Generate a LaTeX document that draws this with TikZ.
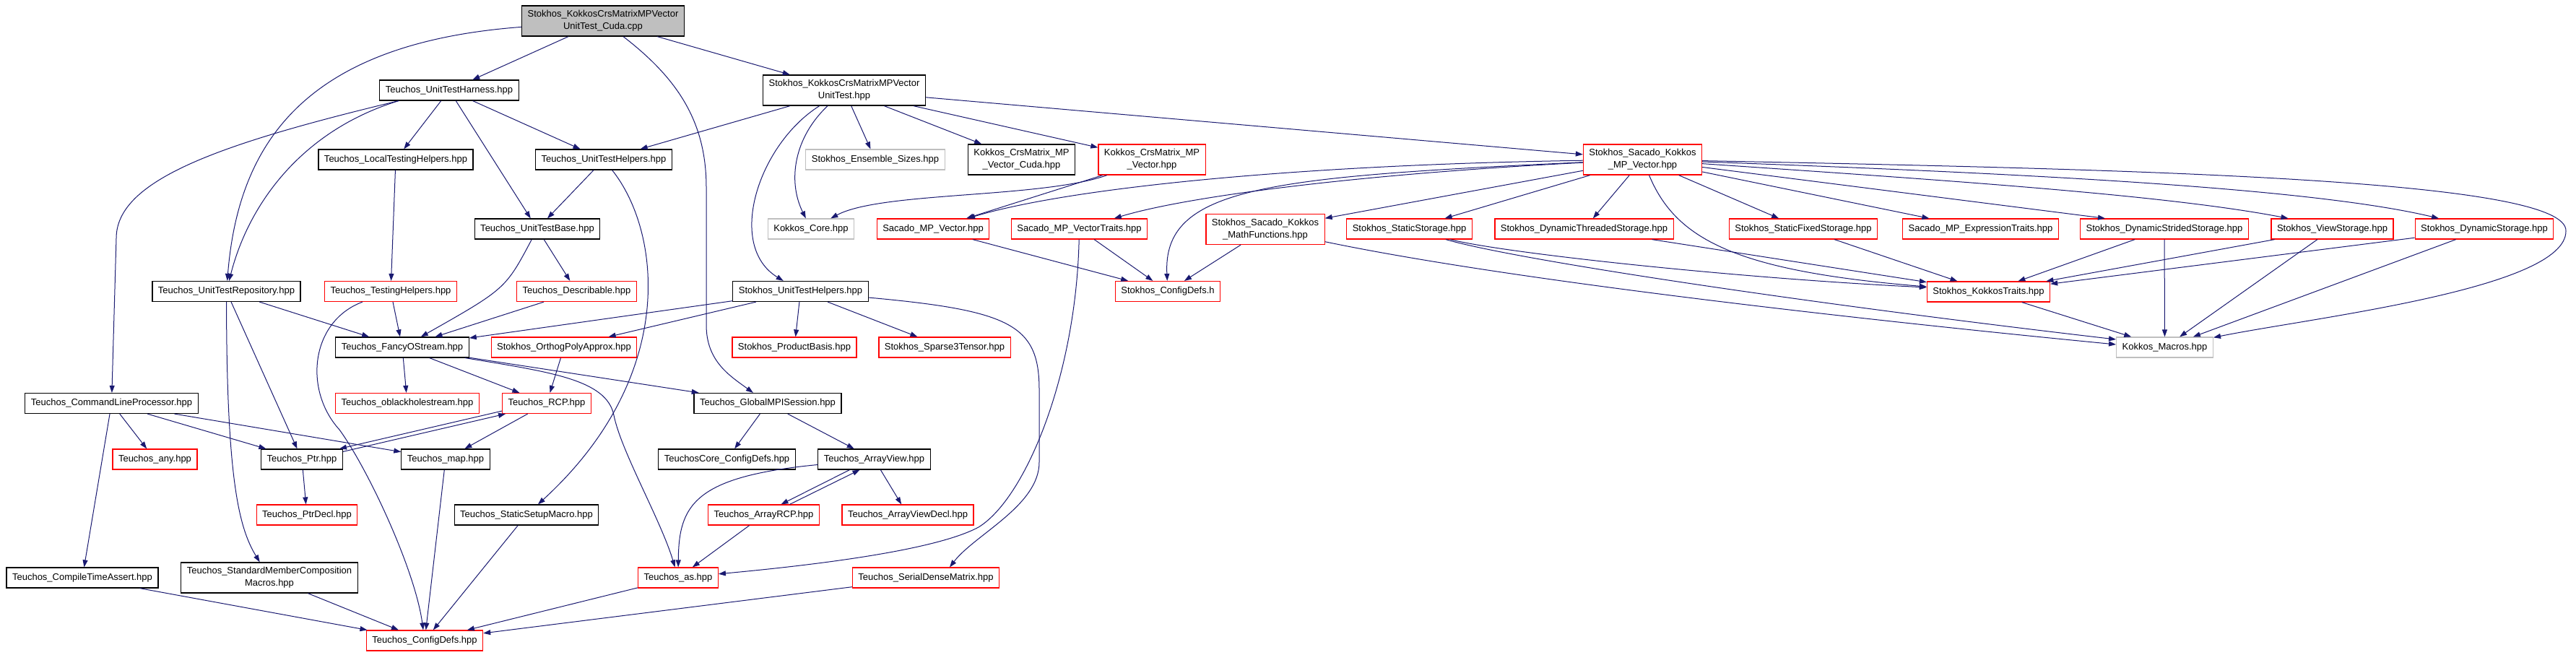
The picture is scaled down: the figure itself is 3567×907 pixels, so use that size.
\documentclass[tikz,border=0pt]{standalone}
\usepackage{fontspec}
\setmainfont{Liberation Sans}
\usetikzlibrary{arrows.meta}
\definecolor{midnight}{HTML}{191970}
\definecolor{lightgrey}{HTML}{BFBFBF}
\begin{document}
\begin{tikzpicture}[x=1pt,y=-1pt,
    filebox/.style={draw=black,line width=1.2pt,fill=white,align=center,
                    font=\fontsize{13}{17}\selectfont,
                    inner xsep=8pt,inner ysep=6.5pt,minimum height=28pt},
    redbox/.style={filebox,draw=red},
    greybox/.style={filebox,draw=lightgrey},
    dep/.style={draw=midnight,line width=1pt,-{Triangle[length=10pt,width=7pt]}}]
  \useasboundingbox (0,0) rectangle (3567,907);
  \node [filebox,fill=lightgrey] (root) at (835,29) {Stokhos\_KokkosCrsMatrixMPVector\\UnitTest\_Cuda.cpp};
  \node [filebox] (harness) at (622,125) {Teuchos\_UnitTestHarness.hpp};
  \node [filebox] (mpvut) at (1169,125) {Stokhos\_KokkosCrsMatrixMPVector\\UnitTest.hpp};
  \node [filebox] (localth) at (548,221) {Teuchos\_LocalTestingHelpers.hpp};
  \node [filebox] (tuth) at (836,221) {Teuchos\_UnitTestHelpers.hpp};
  \node [greybox] (ensemble) at (1212,221) {Stokhos\_Ensemble\_Sizes.hpp};
  \node [filebox] (crscuda) at (1414.5,221) {Kokkos\_CrsMatrix\_MP\\\_Vector\_Cuda.hpp};
  \node [redbox] (crsmpv) at (1595,221) {Kokkos\_CrsMatrix\_MP\\\_Vector.hpp};
  \node [redbox] (sskmpv) at (2274.5,221) {Stokhos\_Sacado\_Kokkos\\\_MP\_Vector.hpp};
  \node [filebox] (utbase) at (744,317) {Teuchos\_UnitTestBase.hpp};
  \node [greybox] (kcore) at (1123,317) {Kokkos\_Core.hpp};
  \node [redbox] (sacmpv) at (1292,317) {Sacado\_MP\_Vector.hpp};
  \node [redbox] (sacmpvtr) at (1494.5,317) {Sacado\_MP\_VectorTraits.hpp};
  \node [redbox] (mathfn) at (1752,317.5) {Stokhos\_Sacado\_Kokkos\\\_MathFunctions.hpp};
  \node [redbox] (staticst) at (1951.5,317) {Stokhos\_StaticStorage.hpp};
  \node [redbox] (dynthr) at (2193.5,317) {Stokhos\_DynamicThreadedStorage.hpp};
  \node [redbox] (staticfix) at (2497,317) {Stokhos\_StaticFixedStorage.hpp};
  \node [redbox] (exprtr) at (2742.5,317) {Sacado\_MP\_ExpressionTraits.hpp};
  \node [redbox] (dynstr) at (2997,317) {Stokhos\_DynamicStridedStorage.hpp};
  \node [redbox] (viewst) at (3229.5,317) {Stokhos\_ViewStorage.hpp};
  \node [redbox] (dynst) at (3440,317) {Stokhos\_DynamicStorage.hpp};
  \node [filebox] (utrep) at (313.5,403.5) {Teuchos\_UnitTestRepository.hpp};
  \node [redbox] (testh) at (541,403.5) {Teuchos\_TestingHelpers.hpp};
  \node [redbox] (descr) at (798.5,403.5) {Teuchos\_Describable.hpp};
  \node [filebox] (suth) at (1108.5,403.5) {Stokhos\_UnitTestHelpers.hpp};
  \node [redbox] (sconf) at (1617,403.5) {Stokhos\_ConfigDefs.h};
  \node [redbox] (ktraits) at (2753.5,404) {Stokhos\_KokkosTraits.hpp};
  \node [filebox] (fancy) at (557,481) {Teuchos\_FancyOStream.hpp};
  \node [redbox] (orthog) at (781,481) {Stokhos\_OrthogPolyApprox.hpp};
  \node [redbox] (prodb) at (1100,481) {Stokhos\_ProductBasis.hpp};
  \node [redbox] (sparse) at (1308,481) {Stokhos\_Sparse3Tensor.hpp};
  \node [greybox] (kmacros) at (2997.5,481) {Kokkos\_Macros.hpp};
  \node [filebox] (clp) at (154.5,558.5) {Teuchos\_CommandLineProcessor.hpp};
  \node [redbox] (oblack) at (564,558.5) {Teuchos\_oblackholestream.hpp};
  \node [redbox] (rcp) at (757,558.5) {Teuchos\_RCP.hpp};
  \node [filebox] (gmpi) at (1063,558.5) {Teuchos\_GlobalMPISession.hpp};
  \node [redbox] (any) at (214.5,636) {Teuchos\_any.hpp};
  \node [filebox] (ptr) at (418,636) {Teuchos\_Ptr.hpp};
  \node [filebox] (map) at (617,636) {Teuchos\_map.hpp};
  \node [filebox] (tcconf) at (1006.5,636) {TeuchosCore\_ConfigDefs.hpp};
  \node [filebox] (aview) at (1210.5,636) {Teuchos\_ArrayView.hpp};
  \node [redbox] (ptrdecl) at (425,713) {Teuchos\_PtrDecl.hpp};
  \node [filebox] (ssmacro) at (729,713) {Teuchos\_StaticSetupMacro.hpp};
  \node [redbox] (arcp) at (1057.5,713) {Teuchos\_ArrayRCP.hpp};
  \node [redbox] (avdecl) at (1257,713) {Teuchos\_ArrayViewDecl.hpp};
  \node [filebox] (cta) at (114,800) {Teuchos\_CompileTimeAssert.hpp};
  \node [filebox] (smcm) at (373,800) {Teuchos\_StandardMemberComposition\\Macros.hpp};
  \node [redbox] (tas) at (939,800) {Teuchos\_as.hpp};
  \node [redbox] (sdm) at (1282,800) {Teuchos\_SerialDenseMatrix.hpp};
  \node [redbox] (tconf) at (588,887) {Teuchos\_ConfigDefs.hpp};
  \draw [dep] (root) -- (harness);
  \draw [dep] (root) .. controls (420,60) and (330,200) .. (utrep);
  \draw [dep] (root) .. controls (940,110) and (978,170) .. (978,260) -- (978,450) .. controls (978,500) and (1010,520) .. (gmpi);
  \draw [dep] (root) -- (mpvut);
  \draw [dep] ([xshift=-70pt]harness.south) .. controls (420,180) and (345,280) .. (utrep);
  \draw [dep] ([xshift=-70pt]harness.south) .. controls (300,200) and (161,250) .. (161,330) -- (clp);
  \draw [dep] (harness) -- (localth);
  \draw [dep] (harness) -- (utbase);
  \draw [dep] (harness) -- (tuth);
  \draw [dep] (mpvut) -- (tuth);
  \draw [dep] (mpvut) .. controls (1100,190) and (1090,250) .. (kcore);
  \draw [dep] (mpvut) .. controls (1050,200) and (1005,340) .. (suth);
  \draw [dep] (mpvut) -- (ensemble);
  \draw [dep] (mpvut) -- (crscuda);
  \draw [dep] (mpvut) -- (crsmpv);
  \draw [dep] (mpvut) -- (sskmpv);
  \draw [dep] (crsmpv) .. controls (1440,275) and (1220,265) .. (kcore);
  \draw [dep] (crsmpv) -- (sacmpv);
  \draw [dep] (tuth) -- (utbase);
  \draw [dep] (tuth) .. controls (915,320) and (940,520) .. (ssmacro);
  \draw [dep] (localth) -- (testh);
  \draw [dep] (utbase) .. controls (700,400) .. (fancy);
  \draw [dep] (utbase) -- (descr);
  \draw [dep] (utrep) -- (fancy);
  \draw [dep] (utrep) -- (ptr);
  \draw [dep] (utrep) .. controls (314,660) and (330,730) .. (smcm);
  \draw [dep] (testh) -- (fancy);
  \draw [dep] (testh) .. controls (430,445) and (420,540) .. (470,595) .. controls (510,650) and (575,790) .. (tconf);
  \draw [dep] (descr) -- (fancy);
  \draw [dep] (suth) -- (fancy);
  \draw [dep] (suth) -- (orthog);
  \draw [dep] (suth) -- (prodb);
  \draw [dep] (suth) -- (sparse);
  \draw [dep] (suth) .. controls (1400,430) and (1439,450) .. (1439,540) -- (1439,640) .. controls (1439,700) and (1350,740) .. ([xshift=33pt]sdm.north);
  \draw [dep] (sacmpvtr) .. controls (1490,520) and (1420,690) .. (1355,730) .. controls (1290,765) and (1100,785) .. (tas);
  \draw [dep] (fancy) -- (oblack);
  \draw [dep] (fancy) -- (rcp);
  \draw [dep] (fancy) -- (gmpi);
  \draw [dep] (fancy) .. controls (760,515) and (840,525) .. (850,575) .. controls (860,625) and (915,720) .. (tas);
  \draw [dep] (orthog) -- (rcp);
  \draw [dep] (clp) -- (any);
  \draw [dep] (clp) -- (ptr);
  \draw [dep] (clp) -- (map);
  \draw [dep] (clp) -- (cta);
  \draw [dep] ([yshift=4pt]rcp.south west) -- ([xshift=-5pt]ptr.north east);
  \draw [dep] ([yshift=-4pt]ptr.north east) -- ([xshift=5pt]rcp.south west);
  \draw [dep] (rcp) -- (map);
  \draw [dep] (ptr) -- (ptrdecl);
  \draw [dep] (map) -- (tconf);
  \draw [dep] (gmpi) -- (tcconf);
  \draw [dep] (gmpi) -- (aview);
  \draw [dep] ([xshift=-34pt]aview.south) -- ([xshift=24pt]arcp.north);
  \draw [dep] ([xshift=36pt]arcp.north) -- ([xshift=-20pt]aview.south);
  \draw [dep] (aview) -- (avdecl);
  \draw [dep] (aview) .. controls (960,660) and (940,700) .. (tas);
  \draw [dep] (arcp) -- (tas);
  \draw [dep] (ssmacro) -- (tconf);
  \draw [dep] (cta) -- (tconf);
  \draw [dep] (smcm) -- (tconf);
  \draw [dep] (tas) -- (tconf);
  \draw [dep] (sdm) -- (tconf);
  \draw [dep] (sacmpv) -- (sconf);
  \draw [dep] (sacmpvtr) -- (sconf);
  \draw [dep] (mathfn) -- (sconf);
  \draw [dep] (mathfn) .. controls (2100,390) and (2600,445) .. ([yshift=4pt]kmacros.west);
  \draw [dep] (sskmpv) .. controls (1800,228) and (1480,260) .. (sacmpv);
  \draw [dep] (sskmpv) .. controls (1750,245) and (1610,260) .. (sconf);
  \draw [dep] (sskmpv) .. controls (1900,240) and (1650,270) .. (sacmpvtr);
  \draw [dep] (sskmpv) -- (mathfn);
  \draw [dep] (sskmpv) -- (staticst);
  \draw [dep] (sskmpv) -- (dynthr);
  \draw [dep] (sskmpv) .. controls (2320,330) and (2400,375) .. (ktraits);
  \draw [dep] (sskmpv) -- (staticfix);
  \draw [dep] (sskmpv) -- (exprtr);
  \draw [dep] (sskmpv) -- ([xshift=-82pt]dynstr.north);
  \draw [dep] (sskmpv) .. controls (2700,250) and (3000,270) .. ([xshift=-61pt]viewst.north);
  \draw [dep] (sskmpv) .. controls (2800,240) and (3200,260) .. ([xshift=-63pt]dynst.north);
  \draw [dep] (sskmpv) .. controls (3000,235) and (3556,250) .. (3553,320) .. controls (3553,400) and (3200,440) .. (kmacros);
  \draw [dep] (staticst) .. controls (2080,350) and (2400,385) .. ([yshift=6pt]ktraits.west);
  \draw [dep] (staticst) .. controls (2100,360) and (2500,420) .. ([yshift=11pt]kmacros.west);
  \draw [dep] (dynthr) -- (ktraits);
  \draw [dep] (staticfix) -- (ktraits);
  \draw [dep] (dynstr) -- (ktraits);
  \draw [dep] (dynstr) -- (kmacros);
  \draw [dep] (viewst) -- (ktraits);
  \draw [dep] (viewst) -- (kmacros);
  \draw [dep] (dynst) -- (ktraits);
  \draw [dep] (dynst) -- (kmacros);
  \draw [dep] (ktraits) -- (kmacros);
\end{tikzpicture}
\end{document}
